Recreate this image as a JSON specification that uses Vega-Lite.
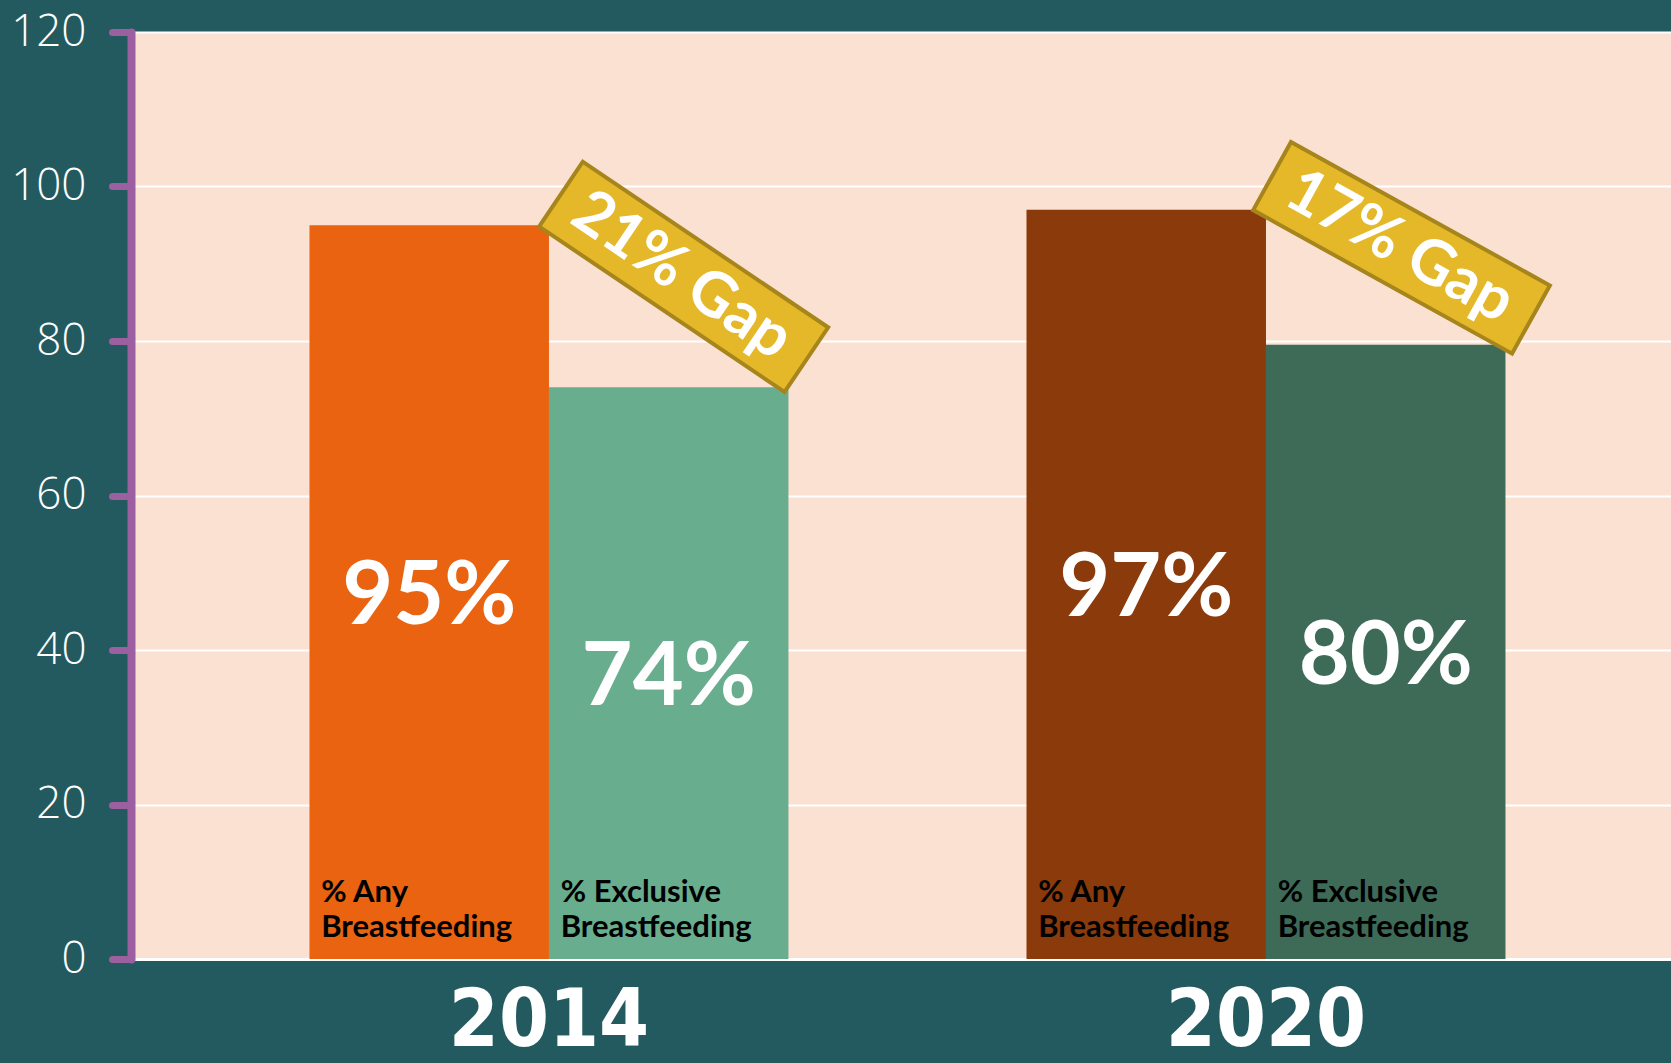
{
  "$schema": "https://vega.github.io/schema/vega-lite/v6.json",
  "autosize": "none",
  "width": 1538,
  "height": 927,
  "padding": {"left": 133, "top": 32, "right": 0, "bottom": 104},
  "background": "#235A60",
  "view": {"fill": "#FBE1D1", "stroke": null},
  "datasets": {
    "bars": [
      {"year": "2014", "series": "Any", "key": "2014 Any", "value": 95, "label": "95%", "name": "% Any\nBreastfeeding"},
      {"year": "2014", "series": "Exclusive", "key": "2014 Exclusive", "value": 74, "label": "74%", "name": "% Exclusive\nBreastfeeding"},
      {"year": "2020", "series": "Any", "key": "2020 Any", "value": 97, "label": "97%", "name": "% Any\nBreastfeeding"},
      {"year": "2020", "series": "Exclusive", "key": "2020 Exclusive", "value": 79.5, "label": "80%", "name": "% Exclusive\nBreastfeeding"}
    ],
    "gaps": [
      {"year": "2014", "series": "Exclusive", "at": 89.6, "gap": "21% Gap"},
      {"year": "2020", "series": "Exclusive", "at": 93.2, "gap": "17% Gap"}
    ]
  },
  "encoding": {
    "x": {
      "field": "year", "type": "nominal",
      "scale": {"paddingInner": 0.332, "paddingOuter": 0.2385, "align": 0.516},
      "axis": {
        "title": null, "domainColor": "white", "domainWidth": 3, "ticks": false,
        "labelColor": "white", "labelFont": "'Liberation Sans Narrow', 'DejaVu Sans Condensed', Roboto, sans-serif", "labelFontSize": 80,
        "labelFontWeight": "bold", "labelBaseline": "alphabetic", "labelPadding": 86, "labelAngle": 0, "labelLimit": 0, "grid": false
      }
    },
    "xOffset": {"field": "series", "type": "nominal", "scale": {"domain": ["Any", "Exclusive"], "paddingInner": 0, "paddingOuter": 0}},
    "y": {
      "type": "quantitative",
      "scale": {"domain": [0, 120], "nice": false},
      "axis": {
        "title": null, "values": [0, 20, 40, 60, 80, 100, 120],
        "domainColor": "#9C5F9F", "domainWidth": 8, "domainCap": "round",
        "tickColor": "#9C5F9F", "tickWidth": 7, "tickCap": "round", "tickSize": 19,
        "labelColor": "white", "labelFont": "Open Sans", "labelFontWeight": 300, "labelFontSize": 44,
        "labelPadding": 26, "offset": 2,
        "grid": true, "gridColor": "white", "gridWidth": 2
      }
    }
  },
  "layer": [
    {
      "data": {"name": "bars"},
      "mark": {"type": "bar", "width": {"band": 1}},
      "encoding": {
        "y": {"field": "value", "type": "quantitative"},
        "color": {
          "field": "key", "type": "nominal", "legend": null,
          "scale": {"domain": ["2014 Any", "2014 Exclusive", "2020 Any", "2020 Exclusive"],
                    "range": ["#E96311", "#69AD8F", "#8B3A0B", "#3D6B58"]}
        }
      }
    },
    {
      "data": {"name": "bars"},
      "transform": [{"calculate": "datum.value / 2", "as": "mid"}],
      "mark": {"type": "text", "color": "white", "font": "Lato", "fontWeight": "bold", "fontSize": 88, "align": "center", "baseline": "middle", "dy": 6},
      "encoding": {
        "y": {"field": "mid", "type": "quantitative"},
        "text": {"field": "label"}
      }
    },
    {
      "data": {"name": "bars"},
      "mark": {"type": "text", "color": "black", "font": "Lato", "fontWeight": "bold", "fontSize": 31, "lineHeight": 35, "lineBreak": "\n", "align": "left", "baseline": "middle", "dx": -108, "dy": -66},
      "encoding": {
        "y": {"datum": 0},
        "text": {"field": "name"}
      }
    },
    {
      "data": {"name": "gaps"},
      "mark": {"type": "point", "filled": true, "opacity": 1, "fill": "#E5B82A", "stroke": "#A6851C", "strokeWidth": 4, "strokeOpacity": 1, "fillOpacity": 1, "size": 87616,
               "shape": "M-0.878,-0.2635L1.122,-0.2635L1.122,0.2635L-0.878,0.2635Z"},
      "encoding": {
        "y": {"field": "at", "type": "quantitative"},
        "angle": {"field": "year", "type": "nominal", "legend": null, "scale": {"domain": ["2014", "2020"], "range": [34, 29]}}
      }
    },
    {
      "data": {"name": "gaps"},
      "mark": {"type": "text", "color": "white", "font": "Lato", "fontWeight": "bold", "fontSize": 62, "align": "center", "baseline": "middle", "dx": 16},
      "encoding": {
        "y": {"field": "at", "type": "quantitative"},
        "text": {"field": "gap"},
        "angle": {"field": "year", "type": "nominal", "legend": null, "scale": {"domain": ["2014", "2020"], "range": [34, 29]}}
      }
    }
  ]
}
